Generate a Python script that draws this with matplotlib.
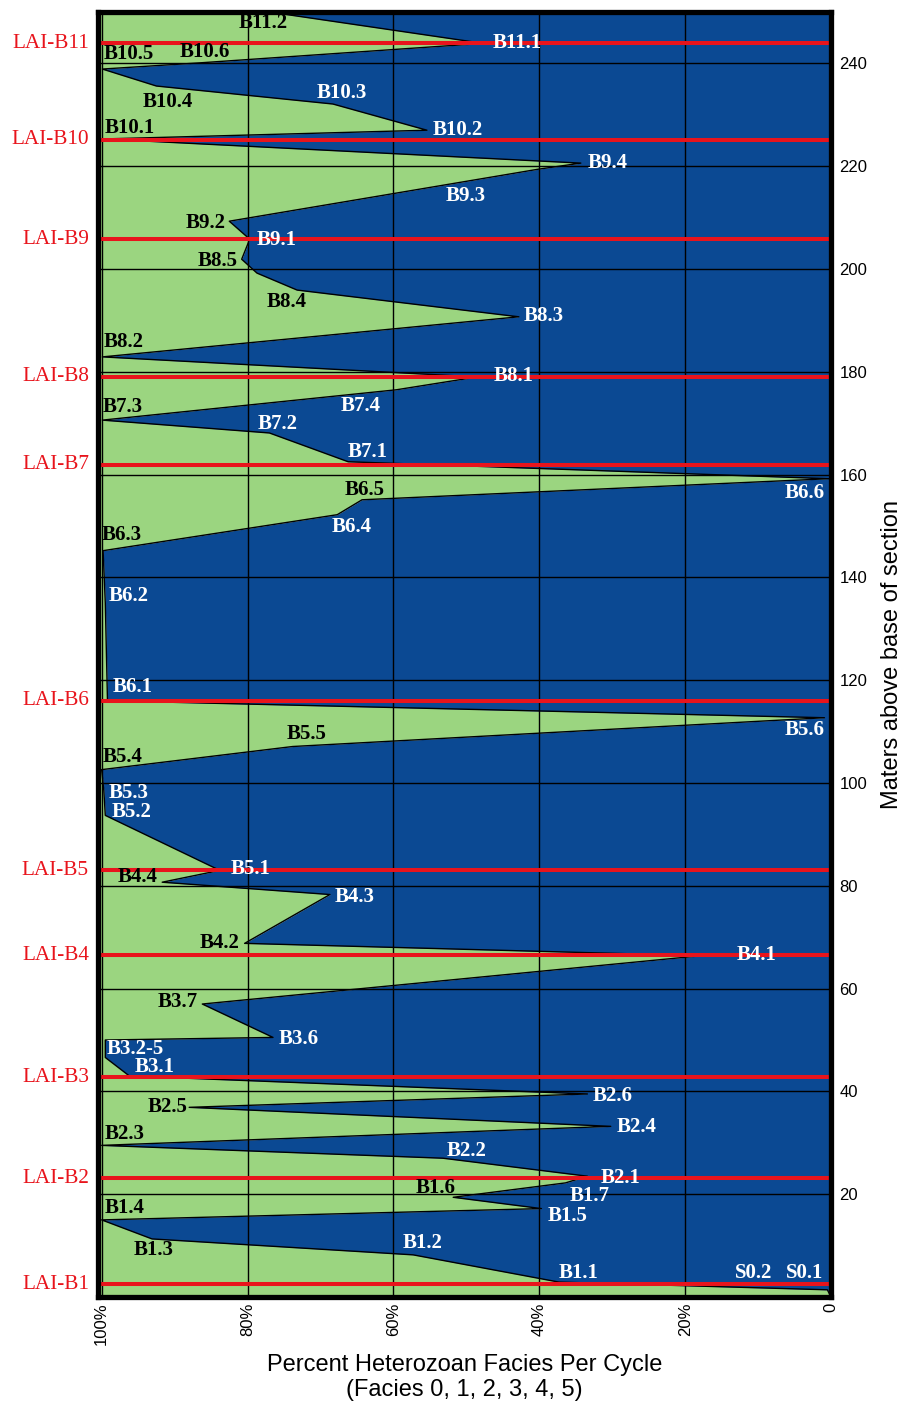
import matplotlib
matplotlib.use("Agg")
import matplotlib.pyplot as plt

# facies boundary, read from the section (percent heterozoan, metres, cycle name)
pct = [0.0, 0.5, 12.7, 37.3, 57.3, 93.1, 100.0, 39.7, 51.8, 36.4,
       33.4, 53.2, 100.0, 30.2, 88.0, 33.4, 96.2, 99.5, 99.5, 76.5,
       86.2, 17.8, 80.4, 68.7, 91.7, 83.8, 99.5, 99.7, 100.0, 73.8,
       0.9, 99.2, 99.5, 99.8, 67.7, 64.3, 0.3, 66.2, 77.0, 99.9,
       59.6, 48.5, 99.9, 42.8, 73.2, 78.7, 80.8, 79.7, 82.5, 40.2,
       34.3, 99.8, 55.4, 68.3, 92.5, 99.9, 86.6, 47.7, 77.0]
height = [0.0, 1.4, 1.9, 2.9, 8.2, 11.3, 15.0, 17.2, 19.4, 22.2,
          23.5, 27.0, 29.5, 33.2, 36.9, 39.5, 43.0, 46.6, 50.0, 50.5,
          57.0, 66.4, 68.8, 78.3, 80.7, 83.0, 93.7, 98.5, 102.6, 107.1,
          112.7, 116.0, 135.0, 145.2, 152.2, 155.1, 159.2, 162.5, 168.1, 170.6,
          176.5, 179.0, 182.9, 190.7, 195.9, 199.2, 201.9, 205.8, 209.3, 219.4,
          220.6, 225.3, 227.0, 232.1, 235.6, 238.9, 240.1, 243.9, 250.0]
names = ["", "S0.1", "S0.2", "B1.1", "B1.2", "B1.3", "B1.4", "B1.5", "B1.6", "B1.7",
         "B2.1", "B2.2", "B2.3", "B2.4", "B2.5", "B2.6", "B3.1", "", "B3.2-5", "B3.6",
         "B3.7", "B4.1", "B4.2", "B4.3", "B4.4", "B5.1", "B5.2", "B5.3", "B5.4", "B5.5",
         "B5.6", "B6.1", "B6.2", "B6.3", "B6.4", "B6.5", "B6.6", "B7.1", "B7.2", "B7.3",
         "B7.4", "B8.1", "B8.2", "B8.3", "B8.4", "", "B8.5", "B9.1", "B9.2", "B9.3",
         "B9.4", "B10.1", "B10.2", "B10.3", "B10.4", "B10.5", "B10.6", "B11.1", "B11.2"]

# cycle boundaries
lai_names = ["LAI-B1", "LAI-B2", "LAI-B3", "LAI-B4", "LAI-B5", "LAI-B6",
             "LAI-B7", "LAI-B8", "LAI-B9", "LAI-B10", "LAI-B11"]
lai_heights = [2.5, 23.1, 42.8, 66.5, 83.0, 116.0, 161.9, 179.0, 205.8, 225.1, 243.9]

x_ticks = [100, 80, 60, 40, 20, 0]
x_ticklabels = ["100%", "80%", "60%", "40%", "20%", "0"]
y_ticks = [20, 40, 60, 80, 100, 120, 140, 160, 180, 200, 220, 240]

# labels sitting in the green part are black, the rest white
on_green = {"B1.3", "B1.4", "B1.6", "B2.3", "B2.5", "B3.7", "B4.2", "B4.4", "B5.4",
            "B5.5", "B6.3", "B6.5", "B7.3", "B8.2", "B8.4", "B8.5", "B9.2", "B10.1",
            "B10.4", "B10.5", "B10.6", "B11.2"}
# label offset from its vertex, in pixels
offsets = {
    "S0.1": (-23, 17), "S0.2": (15, 14), "B1.1": (20, 9), "B1.2": (9, 12),
    "B1.3": (2, -11), "B1.4": (23, 12), "B1.5": (26, -7), "B1.6": (-18, 9),
    "B1.7": (24, -13), "B2.1": (33, -2), "B2.2": (24, 7), "B2.3": (23, 11),
    "B2.4": (26, -1), "B2.5": (-22, 0), "B2.6": (25, -2), "B3.1": (25, 9),
    "B3.2-5": (30, -9), "B3.6": (26, -2), "B3.7": (-25, 2), "B4.1": (55, 1),
    "B4.2": (-25, 0), "B4.3": (25, -2), "B4.4": (-25, 5), "B5.1": (31, 1),
    "B5.2": (26, 3), "B5.3": (25, -2), "B5.4": (21, 13), "B5.5": (14, 13),
    "B5.6": (-20, -12), "B6.1": (25, 14), "B6.2": (23, 7), "B6.3": (19, 16),
    "B6.4": (14, -12), "B6.5": (3, 10), "B6.6": (-24, -14), "B7.1": (19, 10),
    "B7.2": (8, 9), "B7.3": (20, 13), "B7.4": (-36, -16), "B8.1": (36, 1),
    "B8.2": (21, 15), "B8.3": (25, 1), "B8.4": (-10, -12), "B8.5": (-24, -2),
    "B9.1": (27, -1), "B9.2": (-24, -2), "B9.3": (-72, -27), "B9.4": (27, 0),
    "B10.1": (27, 11), "B10.2": (31, 0), "B10.3": (9, 11), "B10.4": (11, -16),
    "B10.5": (26, 15), "B10.6": (5, 11), "B11.1": (34, 0), "B11.2": (-6, -11),
}

green = "#9BD580"
blue = "#0B4993"
red = "#E8141C"
serif = "Liberation Serif"
plt.rcParams["font.family"] = ["Liberation Sans", "DejaVu Sans"]

fig = plt.figure(figsize=(9.06, 14.04), dpi=100)
ax = fig.add_axes([98 / 906, 1 - 1297 / 1404, 733 / 906, 1285 / 1404])

ax.fill_betweenx(height, pct, 101, color=green, lw=0, zorder=1)
ax.fill_betweenx(height, -1, pct, color=blue, lw=0, zorder=1)
ax.plot(pct, height, color="black", lw=1.0, zorder=3)

for y in lai_heights:
    ax.axhline(y, color=red, lw=2.9, zorder=4)
for name, y in zip(lai_names, lai_heights):
    ax.annotate(name, xy=(0, y), xycoords=("axes fraction", "data"),
                xytext=(-9, 0), textcoords="offset pixels",
                ha="right", va="center", color=red, fontsize=15.3,
                family=serif, annotation_clip=False)

for name, x, y in zip(names, pct, height):
    if not name:
        continue
    dx, dy = offsets[name]
    ax.annotate(name, xy=(x, y), xytext=(dx, dy), textcoords="offset pixels",
                ha="center", va="center", fontsize=15, fontweight="bold",
                family=serif, color="black" if name in on_green else "white",
                zorder=5, annotation_clip=False)

ax.set_xlim(100.5, 0)
ax.set_ylim(0, 250)
ax.set_xticks(x_ticks)
ax.set_xticklabels(x_ticklabels, rotation=90, fontsize=12)
ax.set_yticks(y_ticks)
ax.yaxis.tick_right()
ax.yaxis.set_label_position("right")
ax.tick_params(axis="y", length=0, pad=6, labelsize=12)
ax.tick_params(axis="x", length=0, pad=4)
ax.grid(True, color="black", lw=1.0, zorder=2)
ax.set_axisbelow(False)
for s in ax.spines.values():
    s.set_linewidth(3.8)
    s.set_zorder(6)

ax.set_xlabel("Percent Heterozoan Facies Per Cycle\n(Facies 0, 1, 2, 3, 4, 5)",
              fontsize=17, labelpad=6, linespacing=1.2)
ax.set_ylabel("Maters above base of section", fontsize=17, labelpad=10, rotation=90)

fig.savefig("out.png", dpi=100)
